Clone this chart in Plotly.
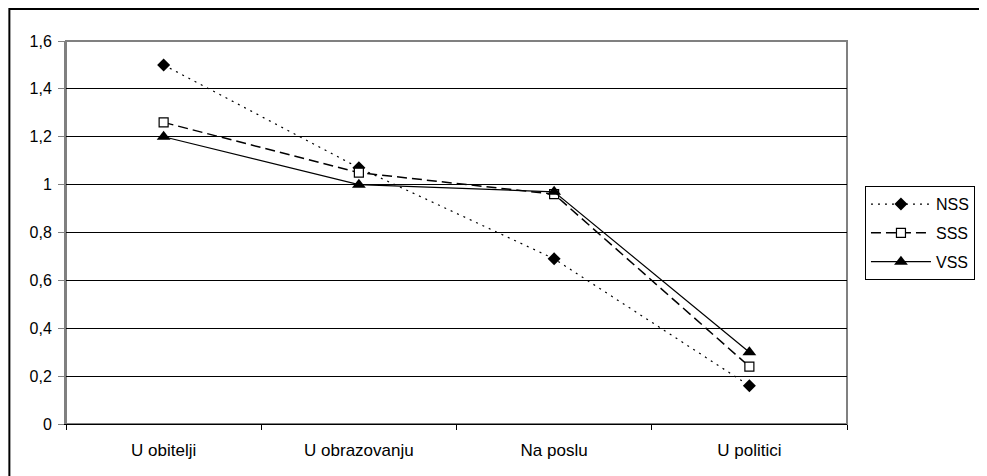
import plotly.graph_objects as go

categories = ["U obitelji", "U obrazovanju", "Na poslu", "U politici"]
nss = [1.50, 1.07, 0.69, 0.16]
sss = [1.26, 1.05, 0.96, 0.24]
vss = [1.20, 1.00, 0.97, 0.30]

fig = go.Figure()

fig.add_trace(go.Scatter(x=categories, y=nss, name="NSS", mode="lines+markers", legendgroup="a",
                         line=dict(color="black", width=1.2, dash="2px,5px"),
                         marker=dict(symbol="diamond", size=10, color="black")))
fig.add_trace(go.Scatter(x=categories, y=sss, name="SSS", mode="lines+markers", legendgroup="b",
                         line=dict(color="black", width=1.5, dash="10px,5px"),
                         marker=dict(symbol="square", size=9, color="white",
                                     line=dict(color="black", width=1.2))))
fig.add_trace(go.Scatter(x=categories, y=vss, name="VSS", mode="lines+markers", legendgroup="c",
                         line=dict(color="black", width=1.2),
                         marker=dict(symbol="triangle-up", size=12, color="black")))

fig.update_yaxes(range=[0, 1.6], dtick=0.2, showgrid=True, gridcolor="black", gridwidth=1,
                 zeroline=False, showline=True, linecolor="#808080", linewidth=2,
                 ticks="outside", ticklen=6, tickcolor="#808080", ticklabelstandoff=3,
                 tickfont=dict(size=16, color="black"))
fig.update_xaxes(range=[-0.5, 3.5], tickson="boundaries", ticks="outside", ticklen=5,
                 tickcolor="black", showline=True, linecolor="black", linewidth=1,
                 showgrid=False, ticklabelstandoff=11, tickfont=dict(size=17, color="black"))

# page body has an 8px margin, so the figure is shrunk by that much
fig.update_layout(
    width=979, height=468,
    margin=dict(l=58, r=135, t=33, b=52),
    plot_bgcolor="white", paper_bgcolor="white",
    separators=",.",
    font=dict(family="Liberation Sans, Arial, sans-serif", color="black", size=16),
    legend=dict(x=1.023, y=0.621, xanchor="left", yanchor="top",
                bordercolor="black", borderwidth=1, bgcolor="white",
                font=dict(size=16), tracegroupgap=5, itemwidth=60),
    shapes=[
        dict(type="rect", xref="paper", yref="paper", x0=0, x1=1, y0=0, y1=1,
             line=dict(color="#808080", width=2), layer="below"),
        dict(type="rect", xref="paper", yref="paper", x0=-0.0725, x1=1.2,
             y0=-0.16, y1=1.0836, line=dict(color="black", width=2)),
    ],
)

fig.write_html("out.html")
